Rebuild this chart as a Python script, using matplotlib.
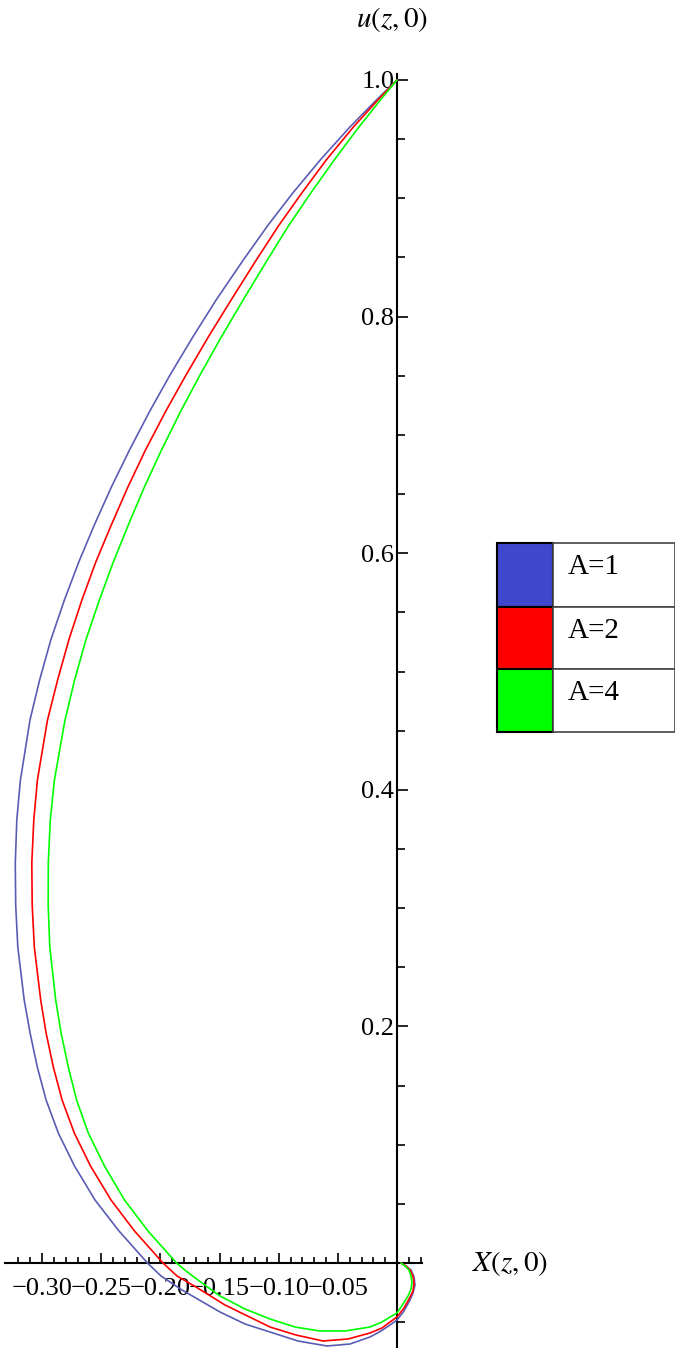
import matplotlib
matplotlib.use("Agg")
import matplotlib.pyplot as plt
from matplotlib.patches import Rectangle

# ---- data ----
upper_u = [1.0, 0.98310, 0.96027, 0.93237, 0.90448, 0.87659, 0.84784, 0.81403, 0.78276,
           0.75063, 0.71936, 0.68724, 0.65596, 0.62384, 0.59256, 0.56044, 0.52663, 0.49281,
           0.45900, 0.40828, 0.37447, 0.33812, 0.30262, 0.26712, 0.22232, 0.19442, 0.16568,
           0.13779, 0.10989, 0.08199, 0.05325, 0.02705, 0.0]

blue_x = [0.0, -0.01741, -0.03981, -0.06492, -0.08808, -0.10955, -0.12992, -0.15292, -0.17261,
          -0.19188, -0.20938, -0.22612, -0.24142, -0.25587, -0.26898, -0.28115, -0.29265,
          -0.30211, -0.31023, -0.31834, -0.32139, -0.32266, -0.32232, -0.32054, -0.31513,
          -0.31015, -0.30406, -0.29662, -0.28631, -0.27261, -0.25528, -0.23500, -0.21091,
          -0.19949, -0.18174, -0.14962, -0.12849, -0.10735, -0.08369, -0.05917, -0.03973,
          -0.02282, -0.01352, -0.00592, 0.0, 0.00592, 0.01099, 0.01352, 0.01522, 0.01437,
          0.01183, 0.00761, 0.00338]
blue_u = upper_u + [
          -0.01099, -0.02282, -0.04142, -0.05156, -0.05833, -0.06593, -0.07016, -0.06847,
          -0.06255, -0.05748, -0.05241, -0.04818, -0.04057, -0.03128, -0.02536, -0.01860,
          -0.01183, -0.00592, -0.00254, 0.0]

red_x = [0.0, -0.01615, -0.03686, -0.05985, -0.08047, -0.10025, -0.11894, -0.14024, -0.15951,
         -0.17836, -0.19586, -0.21260, -0.22747, -0.24151, -0.25461, -0.26636, -0.27743,
         -0.28690, -0.29544, -0.30397, -0.30702, -0.30871, -0.30837, -0.30659, -0.30118,
         -0.29662, -0.29053, -0.28310, -0.27278, -0.25909, -0.24176, -0.22189, -0.19780,
         -0.18597, -0.16991, -0.14539, -0.10735, -0.08538, -0.06255, -0.04142, -0.02282,
         -0.01268, -0.00592, 0.0, 0.00592, 0.01014, 0.01352, 0.01437, 0.01352, 0.01099,
         0.00761, 0.00338]
red_u = upper_u + [
         -0.01099, -0.02029, -0.03550, -0.05410, -0.06086, -0.06593, -0.06424, -0.05917,
         -0.05495, -0.04987, -0.04565, -0.03804, -0.03043, -0.02367, -0.01691, -0.01099,
         -0.00592, -0.00254, 0.0]

green_x = [0.0, -0.01403, -0.03221, -0.05309, -0.07287, -0.09180, -0.10964, -0.13009, -0.14852,
           -0.16653, -0.18318, -0.19907, -0.21353, -0.22713, -0.23981, -0.25156, -0.26306,
           -0.27253, -0.28064, -0.28960, -0.29307, -0.29476, -0.29485, -0.29349, -0.28851,
           -0.28394, -0.27786, -0.27084, -0.26095, -0.24726, -0.23035, -0.21048, -0.18639,
           -0.17836, -0.16822, -0.14962, -0.12849, -0.10735, -0.08622, -0.06509, -0.04396,
           -0.02282, -0.01268, -0.00592, 0.0, 0.00507, 0.00930, 0.01183, 0.01268, 0.01183,
           0.01014, 0.00676, 0.00338]
green_u = upper_u + [
           -0.00676, -0.01437, -0.02790, -0.03888, -0.04734, -0.05410, -0.05748, -0.05748,
           -0.05410, -0.04987, -0.04565, -0.04227, -0.03466, -0.02790, -0.02198, -0.01691,
           -0.01099, -0.00592, -0.00254, 0.0]

series_labels = ["A=1", "A=2", "A=4"]
curve_colors = ["#5a5cb4", "#ff0000", "#00ff00"]
swatch_colors = ["#3f48cc", "#ff0000", "#00ff00"]

x_major = [-0.30, -0.25, -0.20, -0.15, -0.10, -0.05]
x_major_labels = ["\u22120.30", "\u22120.25", "\u22120.20", "\u22120.15", "\u22120.10", "\u22120.05"]
x_minor = [round(-0.32 + 0.01 * i, 2) for i in range(35)]
y_major = [0.2, 0.4, 0.6, 0.8, 1.0]
y_major_labels = ["0.2", "0.4", "0.6", "0.8", "1.0"]
y_minor = [round(-0.05 + 0.05 * i, 2) for i in range(21)]

# ---- figure ----
W, H = 675, 1348
fig = plt.figure(figsize=(W / 100, H / 100), dpi=100)
ax = fig.add_axes([0, 0, 1, 1])
ax.patch.set_alpha(0)

ox, oy, s = 397.0, 1263.0, 1183.0  # origin pixel and pixels per unit
ax.set_xlim((0 - ox) / s, (W - ox) / s)
ax.set_ylim((oy - H) / s, (oy - 0) / s)

serif = ["Liberation Serif", "DejaVu Serif"]
plt.rcParams["mathtext.fontset"] = "stix"

for xs, us, c in zip([blue_x, red_x, green_x], [blue_u, red_u, green_u], curve_colors):
    ax.plot(xs, us, color=c, lw=1.2, solid_joinstyle="round",
            solid_capstyle="round", zorder=3)

for sp in ["top", "right"]:
    ax.spines[sp].set_visible(False)
ax.spines["left"].set_position(("data", 0))
ax.spines["bottom"].set_position(("data", 0))
ax.spines["left"].set_bounds(-0.072, 1.005)
ax.spines["bottom"].set_bounds(-0.331, 0.021)
ax.spines["left"].set_linewidth(1.5)
ax.spines["bottom"].set_linewidth(1.5)

ax.set_xticks(x_major)
ax.set_xticklabels(x_major_labels, fontfamily=serif, fontsize=19)
ax.set_xticks(x_minor, minor=True)
ax.set_yticks(y_major)
ax.set_yticklabels(y_major_labels, fontfamily=serif, fontsize=19)
ax.set_yticks(y_minor, minor=True)

ax.tick_params(axis="x", which="major", direction="in", length=7, width=1.2, pad=11)
ax.tick_params(axis="x", which="minor", direction="in", length=4, width=1.2)
ax.tick_params(axis="y", which="major", direction="in", length=8, width=1.2, pad=2)
ax.tick_params(axis="y", which="minor", direction="in", length=6, width=1.2)

# axis labels
fig.text(392 / W, 1 - 20 / H, r"$u(z,0)$", fontsize=21, ha="center", va="center")
fig.text(510 / W, 1 - 1263 / H, r"$X(z,0)$", fontsize=21, ha="center", va="center")

# legend table
lx0, lx1, lx2 = 497, 553, 675
rows = [543, 607, 669, 732]
for i, (lab, col) in enumerate(zip(series_labels, swatch_colors)):
    top, bot = rows[i], rows[i + 1]
    fig.patches.append(Rectangle((lx0 / W, 1 - bot / H), (lx1 - lx0) / W, (bot - top) / H,
                                 transform=fig.transFigure, facecolor=col,
                                 edgecolor="black", lw=1.5, zorder=5))
    fig.patches.append(Rectangle((lx1 / W, 1 - bot / H), (lx2 - lx1) / W, (bot - top) / H,
                                 transform=fig.transFigure, facecolor="white",
                                 edgecolor="#444444", lw=1.2, zorder=5))
    fig.text(568 / W, 1 - (top + 24) / H, lab, fontfamily=serif, fontsize=21,
             ha="left", va="center", zorder=6)

fig.savefig("out.png", dpi=100)
